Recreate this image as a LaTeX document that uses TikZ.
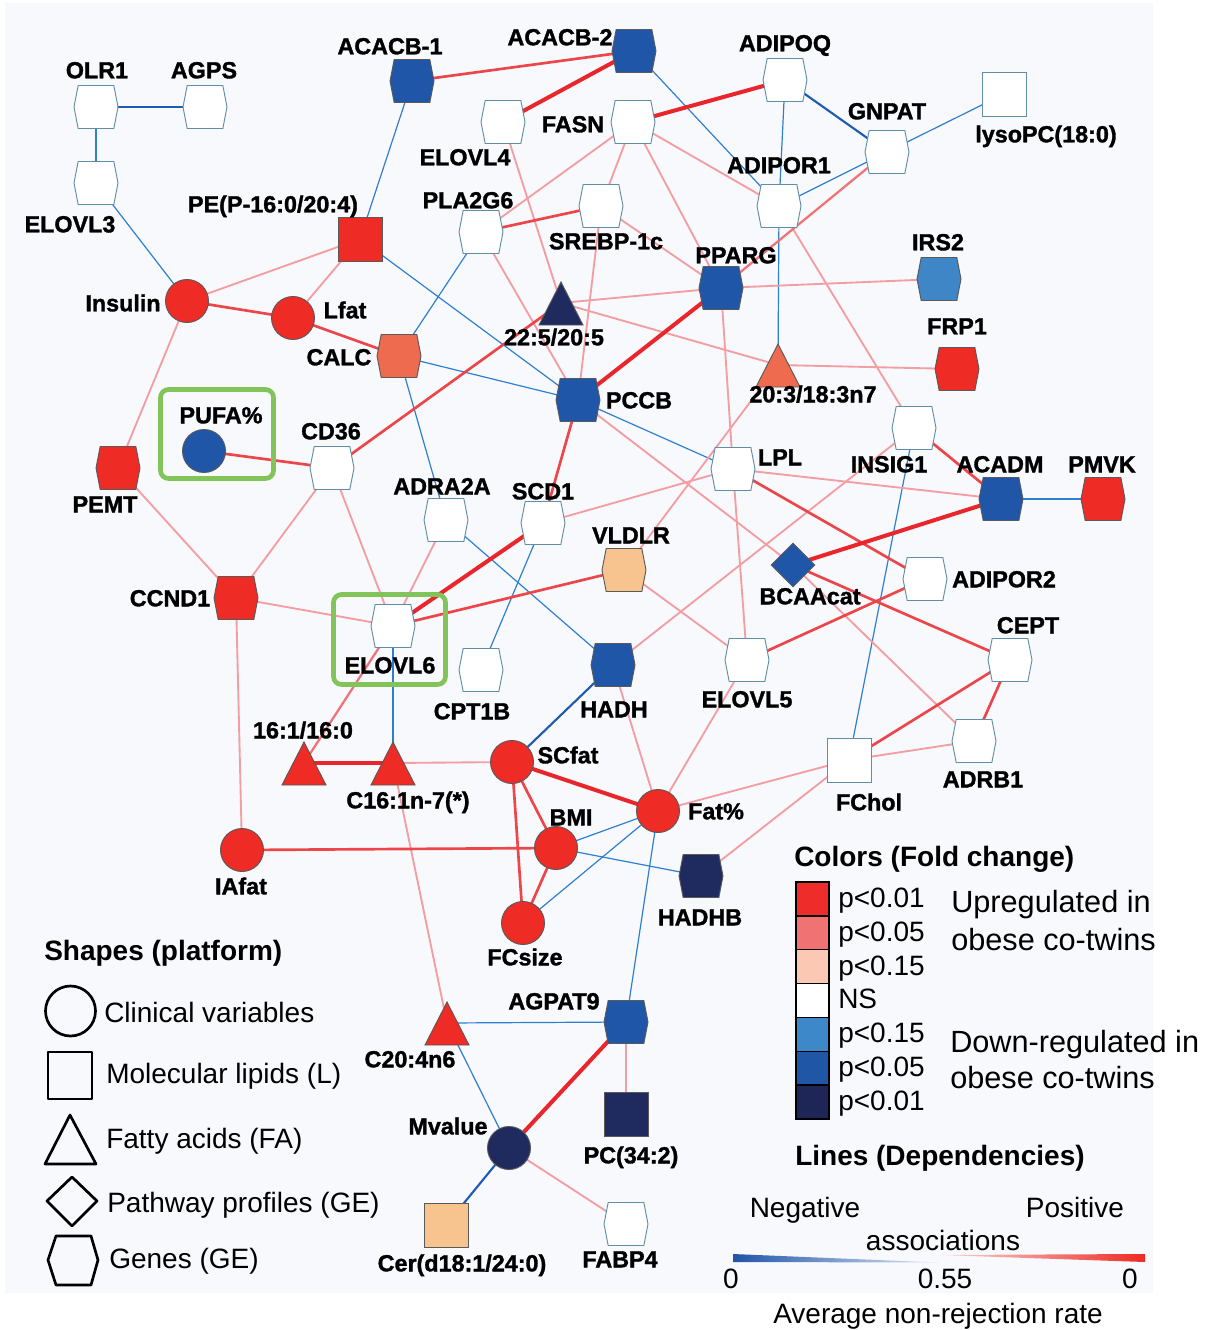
\documentclass[tikz,border=0pt]{standalone}
\usepackage{fontspec}
\setmainfont{Liberation Sans}
\newfontfamily\labfont[FakeBold=1.4]{Liberation Sans Bold}
\usetikzlibrary{shapes.geometric,shapes.symbols,backgrounds}

\definecolor{cR}{HTML}{EE2B24}
\definecolor{cS}{HTML}{EE6B50}
\definecolor{cP}{HTML}{F7C38F}
\definecolor{cLB}{HTML}{3F86C6}
\definecolor{cB}{HTML}{1F56A8}
\definecolor{cN}{HTML}{1F2A5F}
\definecolor{eRt}{HTML}{E8262B}
\definecolor{eRm}{HTML}{EC464B}
\definecolor{eRl}{HTML}{F07378}
\definecolor{ePk}{HTML}{F39EA2}
\definecolor{eB}{HTML}{2F7FD0}
\definecolor{eBm}{HTML}{1F5CB0}
\definecolor{grn}{HTML}{82C35A}
\definecolor{bordW}{HTML}{5F8EA6}
\definecolor{bordF}{HTML}{5A5A5A}
\definecolor{bgc}{HTML}{F8F9FC}
\definecolor{lgR}{HTML}{EE2D2A}
\definecolor{lgRm}{HTML}{F07272}
\definecolor{lgRl}{HTML}{FAC8B3}
\definecolor{lgBl}{HTML}{3C88C8}
\definecolor{lgBm}{HTML}{1F56A6}
\definecolor{lgBd}{HTML}{1E2658}

\tikzset{
 gnode/.style={inner sep=0pt, line width=0.7pt, draw=bordF},
 hexn/.style={gnode, shape=signal, signal to=east and west, signal pointer angle=158, minimum width=33pt, minimum height=32.25pt},
 circn/.style={gnode, circle, minimum size=32.25pt},
 sqn/.style={gnode, rectangle, minimum size=33pt},
 dian/.style={gnode, diamond, minimum size=33pt},
 trin/.style={inner sep=0pt, minimum size=33pt},
 ns/.style={fill=white, draw=bordW},
 lab/.style={font=\labfont\fontsize{17.5}{19}\selectfont, inner sep=0pt, text height=12.5pt, text depth=0pt},
 rt/.style={draw=eRt, line width=3pt},
 rm/.style={draw=eRm, line width=2pt},
 rl/.style={draw=eRl, line width=1.7pt},
 pk/.style={draw=ePk, line width=1.4pt},
 bt/.style={draw=eB, line width=0.9pt},
 bm/.style={draw=eBm, line width=1.6pt},
 legtxt/.style={font=\fontsize{21}{24}\selectfont, inner sep=0pt, anchor=base west},
 legbig/.style={font=\fontsize{23}{26}\selectfont, inner sep=0pt, anchor=base west},
 legttl/.style={font=\bfseries\fontsize{21}{24}\selectfont, inner sep=0pt, anchor=base west},
 legic/.style={draw=black, line width=2pt, line join=round},
 gbox/.style={draw=grn, line width=3.5pt, rounded corners=6pt},
}

\newcommand\trinode[3]{%
 \node[trin] (#1) at (#2) {};
 \filldraw[fill=#3, draw=bordF, line width=0.7pt] (#2) ++(0,-21) -- ++(22,43) -- ++(-44,0) -- cycle;}
\newcommand\edg[3]{\draw[#1] (#2.center) -- (#3.center);}

\begin{document}
\begin{tikzpicture}[x=0.75pt,y=-0.75pt]
\useasboundingbox (0,0) rectangle (1211,1330);

% highlight boxes
\draw[gbox] (160.5,389.5) rectangle (273.5,478.5);
\draw[gbox] (333.5,594.5) rectangle (445.5,684.5);

% nodes
\node[hexn,ns] (OLR1) at (96,107) {};
\node[hexn,ns] (AGPS) at (205,107) {};
\node[hexn,ns] (ELOVL3) at (96,183) {};
\node[hexn,fill=cB] (ACACB1) at (412,81) {};
\node[hexn,fill=cB] (ACACB2) at (634,51) {};
\node[hexn,ns] (ADIPOQ) at (785,80) {};
\node[hexn,ns] (FASN) at (633,122) {};
\node[hexn,ns] (ELOVL4) at (503,122) {};
\node[hexn,ns] (GNPAT) at (887,152) {};
\node[sqn,ns] (lysoPC) at (1004,94) {};
\node[hexn,ns] (ADIPOR1) at (779,206) {};
\node[sqn,fill=cR] (PE) at (360,239) {};
\node[hexn,ns] (PLA2G6) at (481,232) {};
\node[hexn,ns] (SREBP) at (601,206) {};
\node[hexn,fill=cLB] (IRS2) at (939,279) {};
\node[hexn,fill=cB] (PPARG) at (721,288) {};
\node[circn,fill=cR] (Insulin) at (187,301) {};
\node[circn,fill=cR] (Lfat) at (293,318) {};
\trinode{FAa}{561,303}{cN}
\node[hexn,fill=cS] (CALC) at (399,356) {};
\node[hexn,fill=cR] (FRP1) at (957,369) {};
\trinode{FAb}{778,365}{cS}
\node[hexn,fill=cB] (PCCB) at (578,400) {};
\node[circn,fill=cB] (PUFA) at (204,451) {};
\node[hexn,ns] (CD36) at (332,468) {};
\node[hexn,fill=cR] (PEMT) at (118,468) {};
\node[hexn,ns] (INSIG1) at (914,428) {};
\node[hexn,ns] (LPL) at (733,469) {};
\node[hexn,fill=cB] (ACADM) at (1001,499) {};
\node[hexn,fill=cR] (PMVK) at (1103,499) {};
\node[hexn,ns] (ADRA2A) at (446,520) {};
\node[hexn,ns] (SCD1) at (543,523) {};
\node[hexn,fill=cP] (VLDLR) at (624,570) {};
\node[dian,fill=cB] (BCAA) at (793,565) {};
\node[hexn,ns] (ADIPOR2) at (925,579) {};
\node[hexn,fill=cR] (CCND1) at (236,598) {};
\node[hexn,ns] (ELOVL6) at (393,626) {};
\node[hexn,ns] (CPT1B) at (481,670) {};
\node[hexn,fill=cB] (HADH) at (613,665) {};
\node[hexn,ns] (ELOVL5) at (747,660) {};
\node[hexn,ns] (CEPT) at (1010,660) {};
\node[hexn,ns] (ADRB1) at (974,741) {};
\trinode{FAc}{304,763}{cR}
\trinode{FAd}{393,763}{cR}
\node[circn,fill=cR] (SCfat) at (512,762) {};
\node[sqn,ns] (FChol) at (849,760) {};
\node[circn,fill=cR] (Fatp) at (658,811) {};
\node[circn,fill=cR] (BMI) at (556,848) {};
\node[circn,fill=cR] (IAfat) at (242,850) {};
\node[hexn,fill=cN] (HADHB) at (701,876) {};
\node[circn,fill=cR] (FCsize) at (523,923) {};
\node[hexn,fill=cB] (AGPAT9) at (626,1022) {};
\trinode{FAe}{447,1023}{cR}
\node[sqn,fill=cN] (PC) at (626,1114) {};
\node[circn,fill=cN] (Mvalue) at (509,1148) {};
\node[sqn,fill=cP] (Cer) at (446,1225) {};
\node[hexn,ns] (FABP4) at (626,1224) {};

% labels
\node[lab] (lOLR1) at (97,70) {OLR1};
\node[lab] (lAGPS) at (204,70) {AGPS};
\node[lab] (lELOVL3) at (70,224) {ELOVL3};
\node[lab] (lACACB1) at (390,46) {ACACB-1};
\node[lab] (lACACB2) at (560,37) {ACACB-2};
\node[lab] (lADIPOQ) at (785,43) {ADIPOQ};
\node[lab] (lFASN) at (573,124) {FASN};
\node[lab] (lELOVL4) at (465,157) {ELOVL4};
\node[lab] (lGNPAT) at (887,111) {GNPAT};
\node[lab] (llyso) at (1046,134) {lysoPC(18:0)};
\node[lab] (lADIPOR1) at (779,165) {ADIPOR1};
\node[lab] (lPE) at (273,204) {PE(P-16:0/20:4)};
\node[lab] (lPLA2G6) at (468,200) {PLA2G6};
\node[lab] (lSREBP) at (606,241) {SREBP-1c};
\node[lab] (lIRS2) at (938,242) {IRS2};
\node[lab] (lPPARG) at (736,255) {PPARG};
\node[lab] (lInsulin) at (123,303) {Insulin};
\node[lab] (lLfat) at (345,310) {Lfat};
\node[lab] (lFAa) at (554,337) {22:5/20:5};
\node[lab] (lCALC) at (339,357) {CALC};
\node[lab] (lFRP1) at (957,326) {FRP1};
\node[lab] (lFAb) at (813,394) {20:3/18:3n7};
\node[lab] (lPCCB) at (639,400) {PCCB};
\node[lab] (lPUFA) at (221,415) {PUFA\%};
\node[lab] (lCD36) at (331,431) {CD36};
\node[lab] (lPEMT) at (105,504) {PEMT};
\node[lab] (lINSIG1) at (889,464) {INSIG1};
\node[lab] (lLPL) at (780,457) {LPL};
\node[lab] (lACADM) at (1000,464) {ACADM};
\node[lab] (lPMVK) at (1102,464) {PMVK};
\node[lab] (lADRA2A) at (442,486) {ADRA2A};
\node[lab] (lSCD1) at (543,491) {SCD1};
\node[lab] (lVLDLR) at (631,535) {VLDLR};
\node[lab] (lBCAA) at (810,596) {BCAAcat};
\node[lab] (lADIPOR2) at (1004,579) {ADIPOR2};
\node[lab] (lCCND1) at (170,598) {CCND1};
\node[lab] (lELOVL6) at (390,665) {ELOVL6};
\node[lab] (lCPT1B) at (472,711) {CPT1B};
\node[lab] (lHADH) at (614,709) {HADH};
\node[lab] (lELOVL5) at (747,699) {ELOVL5};
\node[lab] (lCEPT) at (1028,625) {CEPT};
\node[lab] (lADRB1) at (983,779) {ADRB1};
\node[lab] (lFAc) at (303,730) {16:1/16:0};
\node[lab] (lFAd) at (408,800) {C16:1n-7(*)};
\node[lab] (lSCfat) at (568,755) {SCfat};
\node[lab] (lFChol) at (869,802) {FChol};
\node[lab] (lFatp) at (716,811) {Fat\%};
\node[lab] (lBMI) at (571,817) {BMI};
\node[lab] (lIAfat) at (241,886) {IAfat};
\node[lab] (lHADHB) at (700,917) {HADHB};
\node[lab] (lFCsize) at (525,957) {FCsize};
\node[lab] (lAGPAT9) at (554,1001) {AGPAT9};
\node[lab] (lFAe) at (410,1059) {C20:4n6};
\node[lab] (lMvalue) at (448,1126) {Mvalue};
\node[lab] (lPC) at (631,1155) {PC(34:2)};
\node[lab] (lCer) at (462,1263) {Cer(d18:1/24:0)};
\node[lab] (lFABP4) at (620,1259) {FABP4};

% edges (behind nodes)
\begin{scope}[on background layer]
\fill[bgc] (5,3) rectangle (1153,1293);
% blue thin
\edg{bt}{OLR1}{ELOVL3}
\edg{bt}{ELOVL3}{Insulin}
\edg{bt}{ACACB1}{PE}
\edg{bt}{ACACB2}{ADIPOR1}
\edg{bt}{ADIPOQ}{ADIPOR1}
\edg{bt}{ADIPOR1}{FAb}
\edg{bt}{GNPAT}{lysoPC}
\edg{bt}{GNPAT}{ADIPOR1}
\edg{bt}{PE}{PCCB}
\edg{bt}{CALC}{PCCB}
\edg{bt}{PLA2G6}{CALC}
\edg{bt}{CALC}{ADRA2A}
\edg{bt}{PCCB}{LPL}
\edg{bt}{ADRA2A}{HADH}
\edg{bt}{SCD1}{CPT1B}
\edg{bt}{ELOVL6}{FAd}
\edg{bt}{INSIG1}{FChol}
\edg{bt}{ACADM}{PMVK}
\edg{bt}{BMI}{Fatp}
\edg{bt}{FCsize}{Fatp}
\edg{bt}{BMI}{HADHB}
\edg{bt}{Fatp}{AGPAT9}
\edg{bt}{FAe}{AGPAT9}
\edg{bt}{FAe}{Mvalue}
% blue medium
\edg{bm}{OLR1}{AGPS}
\edg{bm}{ADIPOQ}{GNPAT}
\edg{bm}{SCfat}{HADH}
\edg{bm}{Mvalue}{Cer}
% pink light
\edg{pk}{PE}{Insulin}
\edg{pk}{PE}{Lfat}
\edg{pk}{Insulin}{PEMT}
\edg{pk}{PEMT}{CCND1}
\edg{pk}{CD36}{CCND1}
\edg{pk}{CD36}{ELOVL6}
\edg{pk}{CCND1}{ELOVL6}
\edg{pk}{CCND1}{IAfat}
\edg{pk}{FAd}{SCfat}
\edg{pk}{FAd}{FAe}
\edg{pk}{HADH}{Fatp}
\edg{pk}{Fatp}{ELOVL5}
\edg{pk}{Fatp}{FChol}
\edg{pk}{HADHB}{FChol}
\edg{pk}{FChol}{ADRB1}
\edg{pk}{BCAA}{ADRB1}
\edg{pk}{PCCB}{BCAA}
\edg{pk}{LPL}{ACADM}
\edg{pk}{SCD1}{LPL}
\edg{pk}{PPARG}{LPL}
\edg{pk}{LPL}{ELOVL5}
\edg{pk}{VLDLR}{ELOVL5}
\edg{pk}{FAb}{VLDLR}
\edg{pk}{HADH}{INSIG1}
\edg{pk}{ADIPOR1}{INSIG1}
\edg{pk}{FASN}{PLA2G6}
\edg{pk}{FASN}{SREBP}
\edg{pk}{FASN}{PPARG}
\edg{pk}{FASN}{ADIPOR1}
\edg{pk}{ELOVL4}{FAa}
\edg{pk}{PLA2G6}{PCCB}
\edg{pk}{SREBP}{PPARG}
\edg{pk}{SREBP}{PCCB}
\edg{pk}{PPARG}{FAa}
\edg{pk}{PPARG}{IRS2}
\edg{pk}{FAa}{FAb}
\edg{pk}{FAb}{FRP1}
\edg{pk}{ELOVL6}{ADRA2A}
\edg{pk}{AGPAT9}{PC}
\edg{pk}{Mvalue}{FABP4}
% red light-medium
\edg{rl}{ELOVL6}{FAc}
\edg{rl}{GNPAT}{PPARG}
% red medium
\edg{rm}{Insulin}{Lfat}
\edg{rm}{IAfat}{BMI}
\edg{rm}{ACACB1}{ACACB2}
\edg{rm}{PLA2G6}{SREBP}
\edg{rm}{Lfat}{CALC}
\edg{rm}{PUFA}{CD36}
\edg{rm}{CD36}{FAa}
\edg{rm}{SCD1}{PCCB}
\edg{rm}{ELOVL6}{VLDLR}
\edg{rm}{SCfat}{BMI}
\edg{rm}{SCfat}{FCsize}
\edg{rm}{BMI}{FCsize}
\edg{rm}{LPL}{ADIPOR2}
\edg{rm}{ELOVL5}{ADIPOR2}
\edg{rm}{BCAA}{CEPT}
\edg{rm}{CEPT}{FChol}
\edg{rm}{CEPT}{ADRB1}
\edg{rm}{INSIG1}{ACADM}
% red thick
\edg{rt}{ACACB2}{ELOVL4}
\edg{rt}{FASN}{ADIPOQ}
\edg{rt}{PPARG}{PCCB}
\edg{rt}{FAc}{FAd}
\edg{rt}{SCfat}{Fatp}
\edg{rt}{AGPAT9}{Mvalue}
\edg{rt}{BCAA}{ACADM}
\edg{rt}{ELOVL6}{SCD1}
\end{scope}

% ---- legend: shapes
\node[legttl] (tShapes) at (44,960) {Shapes (platform)};
\draw[legic] (70.5,1011) circle (25);
\draw[legic] (48,1052) rectangle (92,1099);
\draw[legic] (70,1115) -- (96,1164) -- (45,1164) -- cycle;
\draw[legic] (47,1201) -- (72,1177) -- (97,1201) -- (72,1226) -- cycle;
\draw[legic] (48,1260) -- (56,1236) -- (91,1236) -- (98,1260) -- (91,1285) -- (56,1285) -- cycle;
\node[legtxt] (tClin) at (104,1022) {Clinical variables};
\node[legtxt] (tMol) at (106,1083) {Molecular lipids (L)};
\node[legtxt] (tFat) at (106,1148) {Fatty acids (FA)};
\node[legtxt] (tPath) at (107,1212) {Pathway profiles (GE)};
\node[legtxt] (tGen) at (109,1268) {Genes (GE)};

% ---- legend: colours
\node[legttl] (tCol) at (794,866) {Colors (Fold change)};
\foreach \c [count=\i from 0] in {lgR,lgRm,lgRl,white,lgBl,lgBm,lgBd}{
  \filldraw[fill=\c, draw=black, line width=1.1pt] (796,882+33.86*\i) rectangle (829,882+33.86*\i+33.86);
}
\node[legtxt] (tp1) at (838,907) {p<0.01};
\node[legtxt] (tp2) at (838,941) {p<0.05};
\node[legtxt] (tp3) at (838,975) {p<0.15};
\node[legtxt] (tp4) at (838,1008) {NS};
\node[legtxt] (tp5) at (838,1042) {p<0.15};
\node[legtxt] (tp6) at (838,1076) {p<0.05};
\node[legtxt] (tp7) at (838,1110) {p<0.01};
\node[legbig] (tUp1) at (951,912) {Upregulated in};
\node[legbig] (tUp2) at (951,950) {obese co-twins};
\node[legbig] (tDn1) at (950,1052) {Down-regulated in};
\node[legbig] (tDn2) at (950,1088) {obese co-twins};

% ---- legend: lines
\node[legttl] (tLines) at (795,1165) {Lines (Dependencies)};
\node[legtxt,anchor=base] (tNeg) at (805,1217) {Negative};
\node[legtxt,anchor=base] (tPos) at (1075,1217) {Positive};
\node[legtxt,anchor=base] (tAss) at (943,1250) {associations};
\shade[left color=cB, right color=cB!15] (733,1254) -- (938,1262.5) -- (733,1262) -- cycle;
\shade[left color=cR!20, right color=cR] (940,1255) -- (1145,1254) -- (1145,1262) -- cycle;
\node[legtxt,anchor=base] (t0a) at (731,1288) {0};
\node[legtxt,anchor=base] (t055) at (945,1288) {0.55};
\node[legtxt,anchor=base] (t0b) at (1130,1288) {0};
\node[legtxt,anchor=base] (tAvg) at (938,1323) {Average non-rejection rate};
\end{tikzpicture}
\end{document}
